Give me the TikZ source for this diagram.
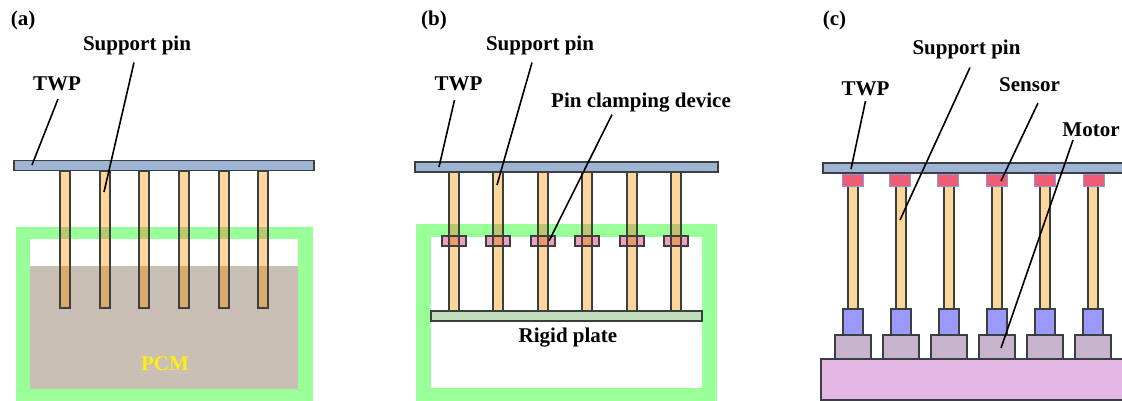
\documentclass[tikz,border=0pt]{standalone}
\usepackage{fontspec}
\setmainfont{Liberation Serif}
\definecolor{twpc}{HTML}{9DB5D3}
\definecolor{edgec}{HTML}{3C3F42}
\definecolor{pinc}{HTML}{FFD699}
\definecolor{framec}{HTML}{99FF99}
\definecolor{pcmc}{HTML}{C9BFB4}
\definecolor{pinframe}{HTML}{BAC56C}
\definecolor{pinpcm}{HTML}{D9AC6C}
\definecolor{clampc}{HTML}{EEA0BC}
\definecolor{clampover}{HTML}{EE9A68}
\definecolor{platec}{HTML}{C2DDBC}
\definecolor{sensorc}{HTML}{EE5C78}
\definecolor{sensoredge}{HTML}{8C9CD0}
\definecolor{motorc}{HTML}{9999FF}
\definecolor{taupec}{HTML}{C8B4CC}
\definecolor{basec}{HTML}{E4B8E4}
\definecolor{pcmtext}{HTML}{FFEE11}
\tikzset{
  blk/.style={rectangle,inner sep=0pt,outer sep=0pt},
  part/.style={blk,draw=edgec,line width=1.3pt},
  twpbox/.style={part,fill=twpc},
  pinbox/.style={part,fill=pinc},
  framebox/.style={blk,fill=framec},
  innerbox/.style={blk,fill=white},
  pcmbox/.style={blk,fill=pcmc},
  clampbox/.style={part,fill=clampc},
  clamppatch/.style={part,fill=clampover},
  platebox/.style={part,fill=platec},
  sensorbox/.style={blk,draw=sensoredge,line width=1pt,fill=sensorc},
  motorbox/.style={part,fill=motorc},
  gearbox/.style={part,fill=taupec},
  basebox/.style={part,fill=basec},
  lbl/.style={font=\fontsize{21}{24}\selectfont\bfseries,inner sep=0pt,outer sep=0pt,text=black},
  leader/.style={black,line width=1.6pt},
}
% name, x1, y1, x2, y2, style
\newcommand{\bx}[6]{%
  \pgfmathsetmacro{\bw}{(#4)-(#2)}\pgfmathsetmacro{\bh}{(#5)-(#3)}%
  \node[#6,minimum width=\bw pt,minimum height=\bh pt] (#1) at ({((#2)+(#4))/2},{((#3)+(#5))/2}) {};}
\begin{document}
\begin{tikzpicture}[x=1pt,y=-1pt]
\useasboundingbox (0,0) rectangle (1122,401);
\fill[white] (0,0) rectangle (1122,401);
%% (a)
\bx{fa}{16}{227}{313}{401}{framebox}
\bx{ia}{30}{239}{298}{389}{innerbox}
\bx{pa}{30}{266}{298}{389}{pcmbox}
\foreach \c [count=\i] in {65,105,144,184,224,263}{
  \bx{pina\i}{\c-5}{171}{\c+5}{308}{pinbox}
  \bx{ova\i}{\c-4.3}{227}{\c+4.3}{239}{blk,fill=pinframe}
  \bx{ovb\i}{\c-4.3}{266}{\c+4.3}{307.3}{blk,fill=pinpcm}
}
\bx{twpa}{14}{160.5}{314}{170.5}{twpbox}
\node[lbl] (capa) at (23,20) {(a)};
\node[lbl] (supa) at (137,45) {Support pin};
\node[lbl] (lta) at (57,84) {TWP};
\node[font=\fontsize{21}{24}\selectfont\bfseries,text=pcmtext,inner sep=0pt] (pcm) at (165,364) {PCM};
\coordinate (ta) at (32,165);
\coordinate (sa) at (104,192);
\draw[leader] ([xshift=1pt,yshift=-8pt]lta.south) -- (ta);
\draw[leader] ([xshift=-3pt,yshift=-8pt]supa.south) -- (sa);
%% (b)
\bx{fb}{416}{224}{717}{401}{framebox}
\bx{ib}{431}{237}{702}{388}{innerbox}
\foreach \c [count=\i] in {454,498,543,587,632,676}{
  \bx{clb\i}{\c-12}{236}{\c+12}{246}{clampbox}
  \bx{pinb\i}{\c-5}{172}{\c+5}{311}{pinbox}
  \bx{ovc\i}{\c-4.3}{224}{\c+4.3}{236}{blk,fill=pinframe}
  \bx{ovd\i}{\c-5}{236}{\c+5}{246}{clamppatch}
}
\bx{plate}{431}{311}{702}{321}{platebox}
\bx{twpb}{415}{162}{718}{172}{twpbox}
\node[lbl] (capb) at (434,20) {(b)};
\node[lbl] (supb) at (540,45) {Support pin};
\node[lbl] (ltb) at (458.5,84) {TWP};
\node[lbl] (clab) at (641,103) {Pin clamping device};
\node[lbl] (rigid) at (568,338) {Rigid plate};
\coordinate (tb) at (439,167);
\coordinate (sb) at (497,185);
\coordinate (cb) at (549,241);
\draw[leader] ([xshift=-4pt,yshift=-9pt]ltb.south) -- (tb);
\draw[leader] ([xshift=-8pt,yshift=-8pt]supb.south) -- (sb);
\draw[leader] ([xshift=-29pt,yshift=-2pt]clab.south) -- (cb);
%% (c)
\bx{base}{821}{359}{1124}{400}{basebox}
\foreach \s/\p [count=\i] in {853/853,900/901,948/949,997/997,1045/1045,1094/1093}{
  \bx{pinc\i}{\p-5}{184}{\p+5}{309}{pinbox}
  \bx{mot\i}{\p-10}{309}{\p+10}{335}{motorbox}
  \bx{gear\i}{\p-18}{335}{\p+18}{359}{gearbox}
  \bx{sen\i}{\s-10.5}{174.5}{\s+10.5}{186}{sensorbox}
}
\bx{twpc}{823}{163}{1124}{173}{twpbox}
\node[lbl] (capc) at (834.5,20) {(c)};
\node[lbl] (supc) at (966.5,49) {Support pin};
\node[lbl] (ltc) at (865.5,89) {TWP};
\node[lbl] (senl) at (1029.5,85) {Sensor};
\node[lbl] (motl) at (1091,130) {Motor};
\coordinate (tc) at (851,169);
\coordinate (sc) at (900,220);
\coordinate (nc) at (1001,181);
\coordinate (mc) at (1001,348);
\draw[leader] ([yshift=-5pt]ltc.south) -- (tc);
\draw[leader] ([xshift=3.5pt,yshift=-9pt]supc.south) -- (sc);
\draw[leader] ([xshift=8.5pt,yshift=-11pt]senl.south) -- (nc);
\draw[leader] ([xshift=-18pt,yshift=-3pt]motl.south) -- (mc);
\end{tikzpicture}
\end{document}
